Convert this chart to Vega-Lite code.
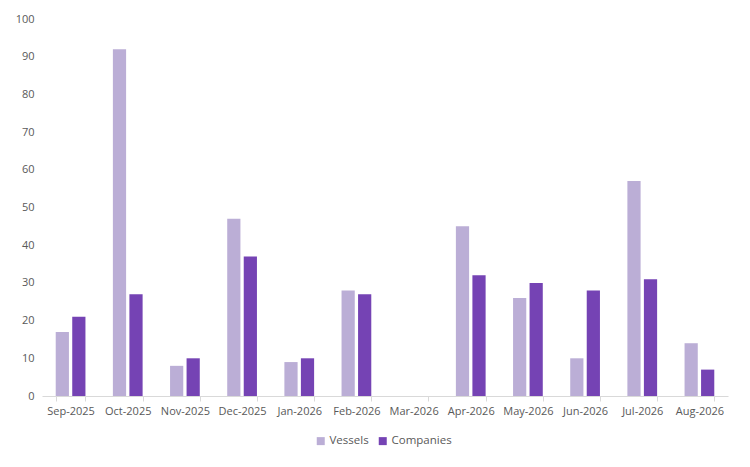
{
  "$schema": "https://vega.github.io/schema/vega-lite/v6.json",
  "width": 686,
  "height": 377,
  "autosize": {"type": "none"},
  "padding": {"left": 42, "top": 19, "right": 22, "bottom": 71},
  "background": "white",
  "config": {
    "view": {"stroke": null},
    "font": "Open Sans",
    "axis": {"labelFont": "Open Sans", "labelColor": "#595959", "labelFontSize": 11, "titleFontSize": 11}
  },
  "data": {
    "values": [
      {"month": "Sep-2025", "series": "Vessels", "value": 17},
      {"month": "Sep-2025", "series": "Companies", "value": 21},
      {"month": "Oct-2025", "series": "Vessels", "value": 92},
      {"month": "Oct-2025", "series": "Companies", "value": 27},
      {"month": "Nov-2025", "series": "Vessels", "value": 8},
      {"month": "Nov-2025", "series": "Companies", "value": 10},
      {"month": "Dec-2025", "series": "Vessels", "value": 47},
      {"month": "Dec-2025", "series": "Companies", "value": 37},
      {"month": "Jan-2026", "series": "Vessels", "value": 9},
      {"month": "Jan-2026", "series": "Companies", "value": 10},
      {"month": "Feb-2026", "series": "Vessels", "value": 28},
      {"month": "Feb-2026", "series": "Companies", "value": 27},
      {"month": "Mar-2026", "series": "Vessels", "value": 0},
      {"month": "Mar-2026", "series": "Companies", "value": 0},
      {"month": "Apr-2026", "series": "Vessels", "value": 45},
      {"month": "Apr-2026", "series": "Companies", "value": 32},
      {"month": "May-2026", "series": "Vessels", "value": 26},
      {"month": "May-2026", "series": "Companies", "value": 30},
      {"month": "Jun-2026", "series": "Vessels", "value": 10},
      {"month": "Jun-2026", "series": "Companies", "value": 28},
      {"month": "Jul-2026", "series": "Vessels", "value": 57},
      {"month": "Jul-2026", "series": "Companies", "value": 31},
      {"month": "Aug-2026", "series": "Vessels", "value": 14},
      {"month": "Aug-2026", "series": "Companies", "value": 7}
    ]
  },
  "mark": {"type": "bar"},
  "encoding": {
    "x": {
      "field": "month",
      "type": "nominal",
      "sort": null,
      "title": null,
      "scale": {"paddingInner": 0.48, "paddingOuter": 0.24},
      "axis": {
        "labelAngle": 0,
        "domainColor": "#D9D9D9",
        "tickColor": "#D9D9D9",
        "tickBand": "extent",
        "tickSize": 5,
        "labelPadding": 4
      }
    },
    "xOffset": {
      "field": "series",
      "type": "nominal",
      "sort": ["Vessels", "Companies"],
      "scale": {"paddingInner": 0.2, "paddingOuter": 0}
    },
    "y": {
      "field": "value",
      "type": "quantitative",
      "title": null,
      "scale": {"domain": [0, 100], "nice": false},
      "axis": {"values": [0,10,20,30,40,50,60,70,80,90,100], "grid": false, "domain": false, "ticks": false, "labelPadding": 8}
    },
    "color": {
      "field": "series",
      "type": "nominal",
      "sort": ["Vessels", "Companies"],
      "scale": {"domain": ["Vessels", "Companies"], "range": ["#BBAED6", "#7543B4"]},
      "legend": {
        "title": null,
        "orient": "none",
        "legendX": 273,
        "legendY": 416,
        "direction": "horizontal",
        "symbolType": "square",
        "symbolSize": 64,
        "symbolStrokeWidth": 0,
        "labelColor": "#595959",
        "labelFontSize": 11.5,
        "labelFont": "Open Sans",
        "labelOffset": 3,
        "columnPadding": 8
      }
    }
  }
}
